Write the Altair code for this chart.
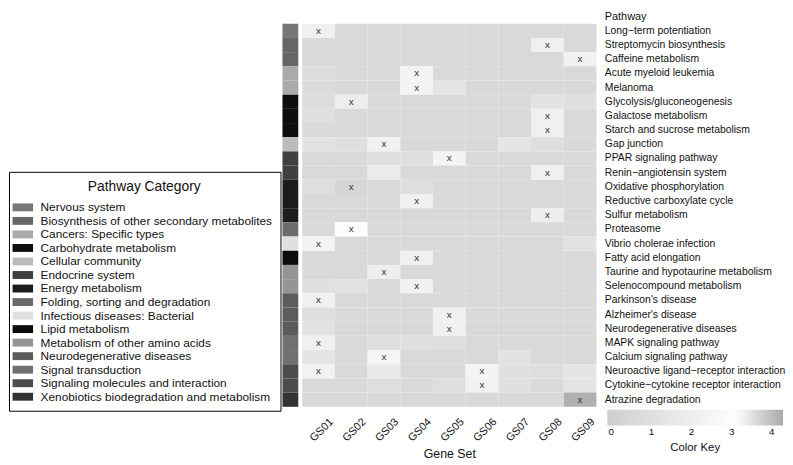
import altair as alt
import pandas as pd

gene_sets = ["GS01", "GS02", "GS03", "GS04", "GS05", "GS06", "GS07", "GS08", "GS09"]

pathways = [
    "Long\u2212term potentiation", "Streptomycin biosynthesis", "Caffeine metabolism",
    "Acute myeloid leukemia", "Melanoma", "Glycolysis/gluconeogenesis",
    "Galactose metabolism", "Starch and sucrose metabolism", "Gap junction",
    "PPAR signaling pathway", "Renin\u2212angiotensin system", "Oxidative phosphorylation",
    "Reductive carboxylate cycle", "Sulfur metabolism", "Proteasome",
    "Vibrio cholerae infection", "Fatty acid elongation", "Taurine and hypotaurine metabolism",
    "Selenocompound metabolism", "Parkinson's disease", "Alzheimer's disease",
    "Neurodegenerative diseases", "MAPK signaling pathway", "Calcium signaling pathway",
    "Neuroactive ligand\u2212receptor interaction", "Cytokine\u2212cytokine receptor interaction",
    "Atrazine degradation",
]

pathway_category = [
    "Nervous system", "Biosynthesis of other secondary metabolites",
    "Biosynthesis of other secondary metabolites", "Cancers: Specific types",
    "Cancers: Specific types", "Carbohydrate metabolism", "Carbohydrate metabolism",
    "Carbohydrate metabolism", "Cellular community", "Endocrine system", "Endocrine system",
    "Energy metabolism", "Energy metabolism", "Energy metabolism",
    "Folding, sorting and degradation", "Infectious diseases: Bacterial", "Lipid metabolism",
    "Metabolism of other amino acids", "Metabolism of other amino acids",
    "Neurodegenerative diseases", "Neurodegenerative diseases", "Neurodegenerative diseases",
    "Signal transduction", "Signal transduction", "Signaling molecules and interaction",
    "Signaling molecules and interaction", "Xenobiotics biodegradation and metabolism",
]

categories = [
    "Nervous system", "Biosynthesis of other secondary metabolites", "Cancers: Specific types",
    "Carbohydrate metabolism", "Cellular community", "Endocrine system", "Energy metabolism",
    "Folding, sorting and degradation", "Infectious diseases: Bacterial", "Lipid metabolism",
    "Metabolism of other amino acids", "Neurodegenerative diseases", "Signal transduction",
    "Signaling molecules and interaction", "Xenobiotics biodegradation and metabolism",
]
category_colors = [
    "#777777", "#666666", "#aaaaaa", "#0e0e0e", "#bbbbbb", "#404040", "#1c1c1c",
    "#6b6b6b", "#e0e0e0", "#0c0c0c", "#959595", "#5c5c5c", "#707070", "#4c4c4c", "#333333",
]

# scores per gene set, one value per pathway (in the order above)
GS01 = [2.1, .55, .55, .8, .8, .75, 1.0, .55, 1.15, .55, .55, .9, .55, .55, .55, 2.35, .55, .55, 1.05, 2.1, .9, 1.15, 2.1, 1.4, 2.25, .55, .55]
GS02 = [.55, .55, .55, .55, .55, 1.9, .55, .55, 1.0, .55, .55, .4, .55, .55, 3.0, .55, .55, .55, 1.15, .55, .55, .55, .55, .55, .55, .55, .55]
GS03 = [.55, .55, .55, .55, .55, .55, .55, .55, 2.2, 1.0, 1.75, .55, .55, .55, .55, .55, .55, 2.0, .55, .55, .55, .55, .9, 2.5, 1.7, .9, .55]
GS04 = [.55, .55, .55, 2.3, 2.3, .55, .55, .55, .55, .9, .55, 1.0, 2.1, .55, .55, .55, 2.1, .55, 2.2, .55, .55, .55, 1.05, .55, .55, .55, .55]
GS05 = [.55, .55, .55, .55, 1.3, .55, .55, .55, .55, 2.35, .55, .55, .55, .55, .55, .55, .55, .55, .55, .55, 2.1, 2.1, .9, .55, .55, .9, .55]
GS06 = [.55, .55, .55, .55, .55, .55, .55, .55, .55, .55, .55, .55, .55, .55, .55, .55, .55, .55, .55, .55, .55, .55, .55, .55, 2.35, 2.25, .55]
GS07 = [.55, .55, .55, .55, .55, .55, .55, .55, 1.4, .55, .55, .55, .55, .55, .55, .55, .55, .55, .55, .55, .55, .55, .55, 1.2, 1.05, 1.05, .55]
GS08 = [.55, 2.1, .55, .55, .55, 1.2, 2.1, 2.1, .9, .55, 2.1, .55, .55, 2.0, .55, .55, .55, .55, .55, .55, .55, .55, .55, .55, .9, .55, .55]
GS09 = [.55, .55, 2.2, .55, .55, 1.0, .55, .55, .55, .55, .55, .55, .55, .55, .55, 1.15, .55, .55, .55, .55, .55, .55, .55, .55, 1.4, 1.3, 4.2]

# cells marked with an "x"
mark_pathway = [
    "Long\u2212term potentiation", "Streptomycin biosynthesis", "Caffeine metabolism",
    "Acute myeloid leukemia", "Melanoma", "Glycolysis/gluconeogenesis",
    "Galactose metabolism", "Starch and sucrose metabolism", "Gap junction",
    "PPAR signaling pathway", "Renin\u2212angiotensin system", "Oxidative phosphorylation",
    "Reductive carboxylate cycle", "Sulfur metabolism", "Proteasome",
    "Vibrio cholerae infection", "Fatty acid elongation", "Taurine and hypotaurine metabolism",
    "Selenocompound metabolism", "Parkinson's disease", "Alzheimer's disease",
    "Neurodegenerative diseases", "MAPK signaling pathway", "Calcium signaling pathway",
    "Neuroactive ligand\u2212receptor interaction", "Neuroactive ligand\u2212receptor interaction",
    "Cytokine\u2212cytokine receptor interaction", "Atrazine degradation",
]
mark_geneset = [
    "GS01", "GS08", "GS09", "GS04", "GS04", "GS02", "GS08", "GS08", "GS03", "GS05",
    "GS08", "GS02", "GS04", "GS08", "GS02", "GS01", "GS04", "GS03", "GS04", "GS01",
    "GS05", "GS05", "GS01", "GS03", "GS01", "GS06", "GS06", "GS09",
]

score_columns = [GS01, GS02, GS03, GS04, GS05, GS06, GS07, GS08, GS09]
records = []
for g, col in zip(gene_sets, score_columns):
    for p, v in zip(pathways, col):
        records.append({"GeneSet": g, "Pathway": p, "Score": v})
heat_df = pd.DataFrame(records)
cat_df = pd.DataFrame({"Pathway": pathways, "Category": pathway_category})
mark_df = pd.DataFrame({"Pathway": mark_pathway, "GeneSet": mark_geneset})

FONT = "Liberation Sans"
W, H = 298, 388

y_enc = alt.Y(
    "Pathway:N", sort=pathways,
    scale=alt.Scale(paddingInner=0, paddingOuter=0),
    axis=alt.Axis(
        orient="right", title="Pathway", titleAngle=0, titleAlign="left",
        titleBaseline="alphabetic", titleX=8, titleY=-4, titleFontSize=11,
        titleFontWeight="normal", labelFontSize=10.5, ticks=False, domain=False,
        labelPadding=8, labelLimit=200, titleFont=FONT, labelFont=FONT,
        labelColor="#111", titleColor="#111",
    ),
)
x_enc = alt.X(
    "GeneSet:N", sort=gene_sets,
    scale=alt.Scale(paddingInner=0, paddingOuter=0),
    axis=alt.Axis(
        title="Gene Set", labelAngle=-45, labelFontSize=11, ticks=False, domain=False,
        labelPadding=9, labelOffset=9, titleFontSize=12.5, titleFontWeight="normal",
        titlePadding=5, labelFont=FONT, titleFont=FONT, labelColor="#111",
        titleColor="#111",
    ),
)

heat = alt.Chart(heat_df).mark_rect().encode(
    x=x_enc,
    y=y_enc,
    color=alt.Color(
        "Score:Q",
        scale=alt.Scale(domain=[-0.1, 3.1, 4.28], range=["#cfcfcf", "#ffffff", "#ababab"]),
        legend=alt.Legend(
            title="Color Key", orient="none", legendX=309, legendY=H + 3,
            direction="horizontal", gradientLength=178, gradientThickness=16,
            titleOrient="bottom", titleAnchor="middle", values=[0, 1, 2, 3, 4],
            labelFontSize=10, titleFontSize=11.5, titleFontWeight="normal",
            labelFont=FONT, titleFont=FONT, gradientStrokeWidth=0, padding=0,
            labelColor="#111", titleColor="#111",
        ),
    ),
)

strip = alt.Chart(cat_df).mark_rect().encode(
    y=y_enc,
    x=alt.value(-20),
    x2=alt.value(-4),
    color=alt.Color(
        "Category:N",
        scale=alt.Scale(domain=categories, range=category_colors),
        legend=alt.Legend(
            title="Pathway Category", orient="none", legendX=-297, legendY=150,
            strokeColor="black", padding=8, titleFontSize=14,
            titleFontWeight="normal", titleAnchor="middle", labelFontSize=12,
            symbolType="M-2.6,-1L2.6,-1L2.6,1L-2.6,1Z", symbolSize=64,
            symbolStrokeWidth=0, symbolOpacity=1, rowPadding=1.7, labelOffset=12,
            labelLimit=320, titleFont=FONT, labelFont=FONT, titlePadding=8,
            labelColor="#111", titleColor="#111",
        ),
    ),
)

marks = alt.Chart(mark_df).mark_text(fontSize=10, font=FONT, color="#333").encode(
    x=x_enc, y=y_enc, text=alt.value("x"),
)

chart = (
    alt.layer(heat, strip, marks)
    .resolve_scale(color="independent")
    .properties(width=W, height=H, padding=0)
    .configure_view(stroke=None)
)

chart.save("out.html", embed_options={"renderer": "svg", "actions": False})
